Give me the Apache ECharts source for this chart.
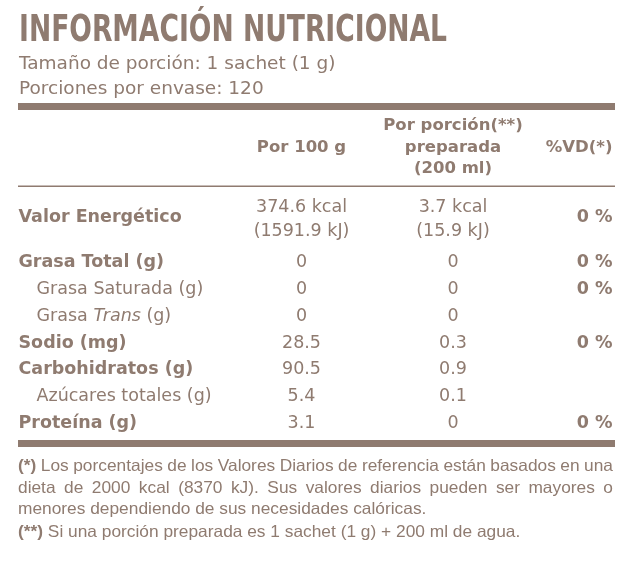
<!DOCTYPE html>
<html>
<head>
<meta charset="utf-8">
<script src="https://cdn.jsdelivr.net/npm/echarts@6/dist/echarts.min.js"></script>
<style>
  html, body { margin: 0; padding: 0; background: #fff; }
  #main { width: 643px; height: 566px; }
</style>
</head>
<body>
<div id="main"></div>
<script>
var myChart = echarts.init(document.getElementById('main'));

// ---- datos de la etiqueta ----
var titulo = 'INFORMACIÓN NUTRICIONAL';
var porcion = ['Tamaño de porción: 1 sachet (1 g)', 'Porciones por envase: 120'];

var columnas = ['Por 100 g', 'Por porción(**)\npreparada\n(200 ml)', '%VD(*)'];

var energiaNombre = 'Valor Energético';
var energiaPor100 = ['374.6 kcal', '(1591.9 kJ)'];
var energiaPorcion = ['3.7 kcal', '(15.9 kJ)'];
var energiaVD = 0;

var nutrientes = ['Grasa Total (g)', 'Grasa Saturada (g)', 'Grasa Trans (g)', 'Sodio (mg)',
    'Carbohidratos (g)', 'Azúcares totales (g)', 'Proteína (g)'];
var nivel = [0, 1, 1, 0, 0, 1, 0];
var por100 = [0, 0, 0, 28.5, 90.5, 5.4, 3.1];
var porPorcion = [0, 0, 0, 0.3, 0.9, 0.1, 0];
var vd = [0, 0, null, 0, null, null, 0];
var italicas = ['Trans'];

var notas = [
    '(*) Los porcentajes de los Valores Diarios de referencia están basados en una',
    'dieta de 2000 kcal (8370 kJ). Sus valores diarios pueden ser mayores o',
    'menores dependiendo de sus necesidades calóricas.',
    '(**) Si una porción preparada es 1 sachet (1 g) + 200 ml de agua.'
];
var notasJustificadas = [true, true, false, false];

// ---- estilo ----
var COLOR = '#8f7b70';
var FONT = 'DejaVu Sans';
var LEFT = 18, RIGHT = 615;
var COL = { nombre: 18, sangria: 36, por100: 301.5, porcion: 453, vd: 613 };

var ctx = document.createElement('canvas').getContext('2d');
function medir(texto, font) {
    ctx.font = font;
    return ctx.measureText(texto).width;
}

function marcar(texto) {
    var out = texto;
    italicas.forEach(function (w) {
        if (out.indexOf(w) >= 0) {
            var partes = out.split(w);
            out = '{n|' + partes[0] + '}{i|' + w + '}{n|' + partes[1] + '}';
        }
    });
    return out;
}

var alinear = {
    left: { position: 'right', distance: 0 },
    center: { position: 'inside' },
    right: { position: 'left', distance: 0 }
};

function celdas(gi, alin, label, data) {
    return {
        type: 'scatter',
        xAxisIndex: gi,
        yAxisIndex: gi,
        symbolSize: 1,
        silent: true,
        itemStyle: { color: 'rgba(0,0,0,0)', opacity: 1 },
        emphasis: { disabled: true },
        label: Object.assign({
            show: true,
            color: COLOR,
            opacity: 1,
            fontFamily: FONT,
            fontSize: 17.5,
            formatter: function (p) { return p.data.texto; },
            rich: {
                n: { fontFamily: FONT, fontSize: 17.5, color: COLOR },
                i: { fontFamily: FONT, fontSize: 17.5, color: COLOR, fontStyle: 'italic' }
            }
        }, alinear[alin], label),
        data: data
    };
}

var series = [
    // encabezado
    celdas(0, 'center', { fontWeight: 'bold', fontSize: 16.5, lineHeight: 21.5 },
        [{ value: [COL.por100, 'enc'], texto: columnas[0] }, { value: [COL.porcion, 'enc'], texto: columnas[1] }]),
    celdas(0, 'right', { fontWeight: 'bold', fontSize: 16.5 },
        [{ value: [COL.vd, 'enc'], texto: columnas[2] }]),
    // energia
    celdas(1, 'left', { fontWeight: 'bold' },
        [{ value: [COL.nombre, energiaNombre], texto: energiaNombre }]),
    celdas(1, 'center', { lineHeight: 24, offset: [0, 2.5] },
        [{ value: [COL.por100, energiaNombre], texto: energiaPor100.join('\n') },
         { value: [COL.porcion, energiaNombre], texto: energiaPorcion.join('\n') }]),
    celdas(1, 'right', { fontWeight: 'bold' },
        [{ value: [COL.vd, energiaNombre], texto: energiaVD + ' %' }]),
    // nutrientes
    celdas(2, 'left', {}, nutrientes.map(function (n, i) {
        return {
            value: [nivel[i] ? COL.sangria : COL.nombre, n],
            texto: marcar(n),
            label: { fontWeight: nivel[i] ? 'normal' : 'bold' }
        };
    })),
    celdas(2, 'center', {}, nutrientes.map(function (n, i) {
        return { value: [COL.por100, n], texto: String(por100[i]) };
    })),
    celdas(2, 'center', {}, nutrientes.map(function (n, i) {
        return { value: [COL.porcion, n], texto: String(porPorcion[i]) };
    })),
    celdas(2, 'right', { fontWeight: 'bold' }, nutrientes.map(function (n, i) {
        return vd[i] === null ? null : { value: [COL.vd, n], texto: vd[i] + ' %' };
    }).filter(Boolean))
];

// ---- textos y filetes ----
var graphic = [];

var fTitulo = 'bold 38px "DejaVu Sans Condensed"';
graphic.push({
    type: 'text', x: LEFT + 1, y: 31.5, scaleX: 428 / medir(titulo, fTitulo),
    style: { text: titulo, font: fTitulo, fill: COLOR, verticalAlign: 'middle' }
});
porcion.forEach(function (t, i) {
    graphic.push({
        type: 'text', x: 19, y: 64.5 + i * 24.5,
        style: { text: t, font: '18.5px "' + FONT + '"', fill: COLOR, verticalAlign: 'middle' }
    });
});

[[103, 7], [185.5, 1.4], [440, 7]].forEach(function (r) {
    graphic.push({
        type: 'rect', shape: { x: LEFT, y: r[0], width: RIGHT - LEFT, height: r[1] },
        style: { fill: COLOR }
    });
});

// notas al pie: Liberation Sans algo ensanchada, dos primeras lineas justificadas
var fNota = '16.5px "Liberation Sans"', fNotaB = 'bold 16.5px "Liberation Sans"';
var NOTA_SX = 1.05;
var notaY = [466, 488, 509, 532];
notas.forEach(function (linea, k) {
    var palabras = linea.split(' ');
    var fuentes = palabras.map(function (p) { return /^\(\*+\)$/.test(p) ? fNotaB : fNota; });
    var anchos = palabras.map(function (p, i) { return medir(p, fuentes[i]) * NOTA_SX; });
    var total = anchos.reduce(function (a, b) { return a + b; }, 0);
    var gap = notasJustificadas[k] ? (RIGHT - 2 - LEFT - total) / (palabras.length - 1) : medir(' ', fNota) * NOTA_SX;
    var x = LEFT;
    palabras.forEach(function (p, i) {
        graphic.push({
            type: 'text', x: x, y: notaY[k], scaleX: NOTA_SX,
            style: { text: p, font: fuentes[i], fill: COLOR, verticalAlign: 'middle' }
        });
        x += anchos[i] + gap;
    });
});

var option = {
    backgroundColor: '#ffffff',
    animation: false,
    grid: [
        { left: 0, right: 0, top: 137.5, height: 20 },
        { left: 0, right: 0, top: 207, height: 20 },
        { left: 0, right: 0, top: 249, height: 188 }
    ],
    xAxis: [0, 1, 2].map(function (i) {
        return { type: 'value', gridIndex: i, min: 0, max: 643, show: false };
    }),
    yAxis: [
        { type: 'category', gridIndex: 0, data: ['enc'], show: false },
        { type: 'category', gridIndex: 1, data: [energiaNombre], show: false },
        { type: 'category', gridIndex: 2, data: nutrientes, inverse: true, show: false }
    ],
    graphic: graphic,
    series: series
};

myChart.setOption(option);
</script>
</body>
</html>
